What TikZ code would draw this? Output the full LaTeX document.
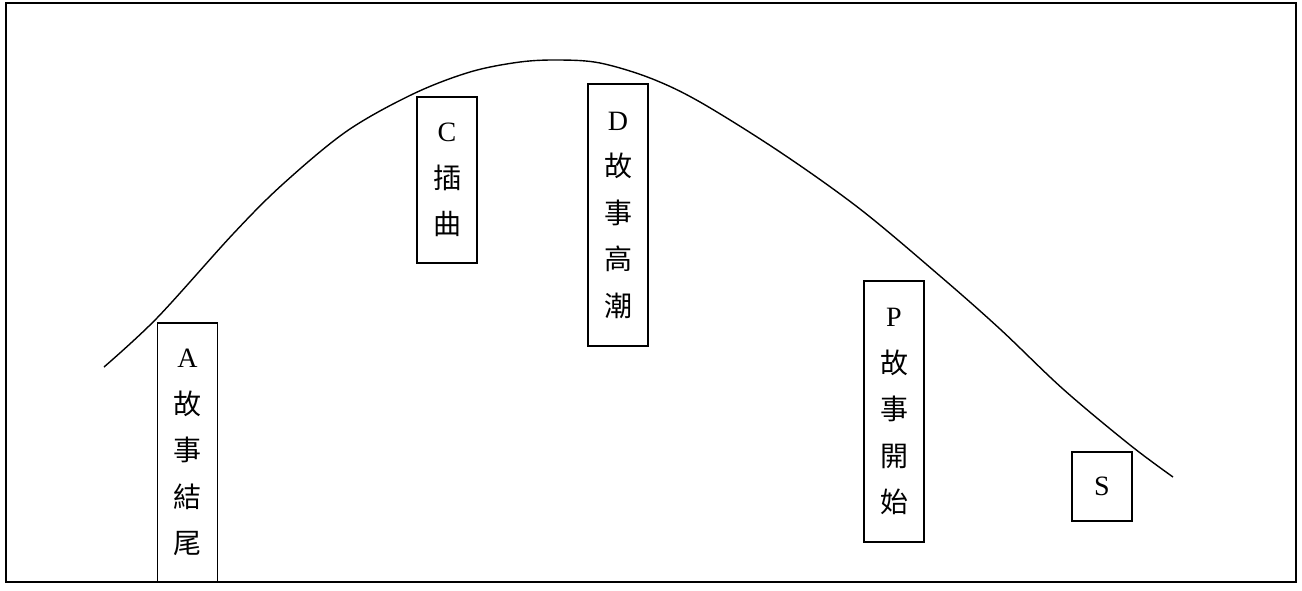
\documentclass[tikz,border=0pt]{standalone}
\usepackage{fontspec}
\setmainfont{Liberation Serif}
\newfontfamily\cjk{Noto Sans CJK TC}
\tikzset{
  tag/.style={draw, line width=1.5pt, inner sep=0pt, minimum width=60pt, align=center,
    font=\fontsize{28pt}{46.5pt}\selectfont}
}

\begin{document}
\begin{tikzpicture}[x=1pt, y=-1pt]
\useasboundingbox (0, 0) rectangle (1302, 590);
\draw[line width=2pt] (6, 3) rectangle (1296, 582);
% story arc
\draw[line width=1.4pt] plot[smooth, tension=0.55] coordinates {(104, 367) (157, 318) (233, 234) (283, 184) (347, 131) (413, 94) (470, 72) (520, 62) (560, 60) (600, 63) (650, 78) (700, 102) (780, 152) (860, 209) (940, 276) (1000, 329) (1063, 389) (1130, 445) (1173, 477)};
\node[tag, minimum height=259pt] (end) at (187.5, 452.5) {A\\\cjk 故\\\cjk 事\\\cjk 結\\\cjk 尾};
\node[tag, minimum height=166pt] (episode) at (447, 180) {C\\\cjk 插\\\cjk 曲};
\node[tag, minimum height=262pt] (climax) at (618, 215) {D\\\cjk 故\\\cjk 事\\\cjk 高\\\cjk 潮};
\node[tag, minimum height=261pt] (start) at (894, 411.5) {P\\\cjk 故\\\cjk 事\\\cjk 開\\\cjk 始};
\node[tag, minimum height=69pt] (s) at (1102, 486.5) {S};
\end{tikzpicture}
\end{document}
